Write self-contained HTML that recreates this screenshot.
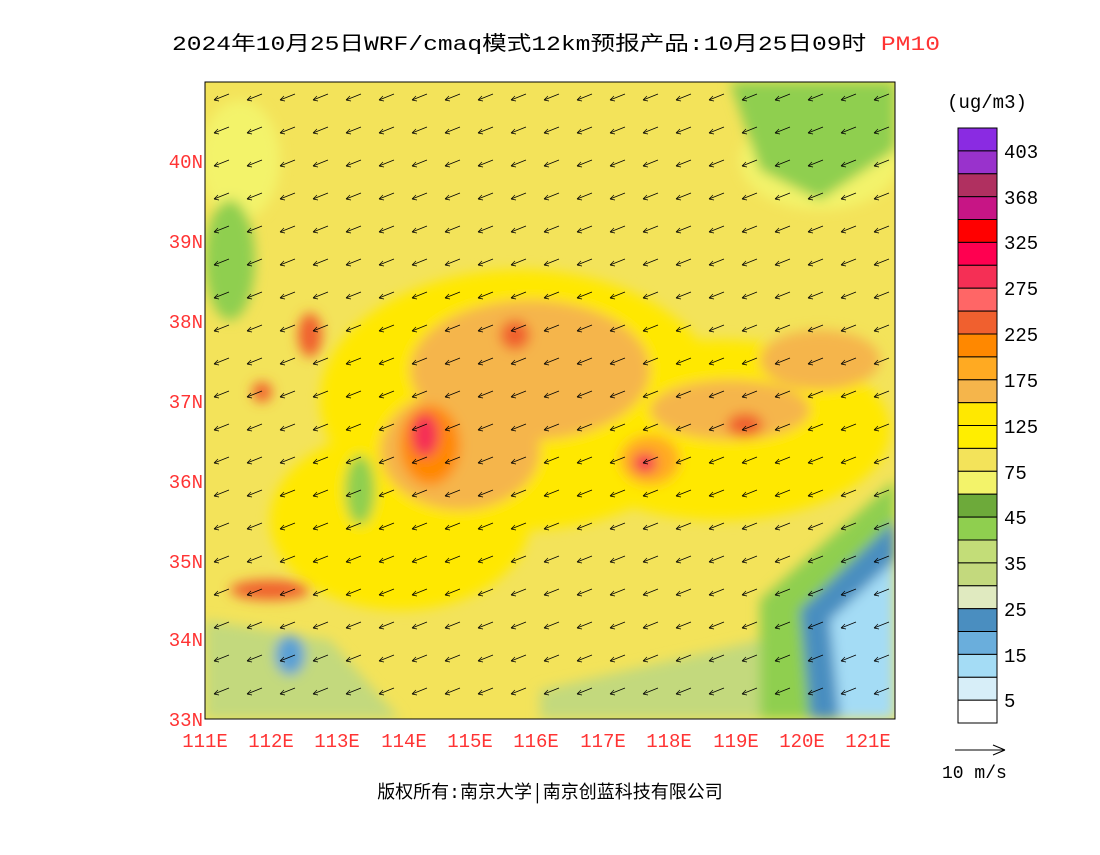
<!DOCTYPE html>
<html><head><meta charset="utf-8"><style>
body{margin:0;background:#fff;width:1100px;height:850px;overflow:hidden}
svg text{font-family:"Liberation Mono","Noto Sans CJK SC",monospace}
</style></head><body>
<svg width="1100" height="850" viewBox="0 0 1100 850" xmlns="http://www.w3.org/2000/svg">
<defs>
<clipPath id="c"><rect x="205" y="82" width="690" height="637"/></clipPath>
<pattern id="arr" x="205" y="82" width="33" height="33" patternUnits="userSpaceOnUse">
<path d="M24 12 L9 18 M9 18 L13 14 M9 18 L14 19" stroke="#000" stroke-width="0.7" fill="none"/>
</pattern>
<filter id="b"><feGaussianBlur stdDeviation="6"/></filter>
</defs>
<text x="172" y="50" font-size="20" textLength="768" lengthAdjust="spacingAndGlyphs" fill="#000">2024年10月25日WRF/cmaq模式12km预报产品:10月25日09时 <tspan fill="#f33">PM10</tspan></text>
<g clip-path="url(#c)">
<rect x="205" y="82" width="690" height="637" fill="#F3E35A"/>
<g filter="url(#b)">
<ellipse cx="520" cy="400" rx="200" ry="130" fill="#FFE800"/>
<ellipse cx="720" cy="430" rx="170" ry="90" fill="#FFE800"/>
<ellipse cx="400" cy="520" rx="130" ry="90" fill="#FFE800"/>
<ellipse cx="530" cy="370" rx="120" ry="70" fill="#F5B54B"/>
<ellipse cx="460" cy="450" rx="80" ry="60" fill="#F5B54B"/>
<ellipse cx="730" cy="410" rx="80" ry="30" fill="#F5B54B"/>
<ellipse cx="650" cy="460" rx="30" ry="25" fill="#FFAA22"/>
<ellipse cx="820" cy="360" rx="60" ry="30" fill="#F5B54B"/>
<ellipse cx="430" cy="445" rx="30" ry="40" fill="#FF8800"/>
<ellipse cx="425" cy="435" rx="14" ry="22" fill="#F52F55"/>
<ellipse cx="645" cy="463" rx="12" ry="10" fill="#F52F55"/>
<ellipse cx="270" cy="590" rx="40" ry="10" fill="#F0602F"/>
<ellipse cx="310" cy="335" rx="12" ry="22" fill="#F0602F"/>
<ellipse cx="262" cy="392" rx="10" ry="10" fill="#F0602F"/>
<ellipse cx="745" cy="425" rx="18" ry="12" fill="#F0602F"/>
<ellipse cx="515" cy="335" rx="15" ry="15" fill="#F0602F"/>
<ellipse cx="240" cy="160" rx="40" ry="60" fill="#F3F36A"/>
<ellipse cx="820" cy="160" rx="80" ry="50" fill="#F3F36A"/>
<path d="M730 82 L895 82 L895 150 L820 200 L760 170 Z" fill="#8FCF4F"/>
<ellipse cx="230" cy="260" rx="25" ry="60" fill="#8FCF4F"/>
<ellipse cx="360" cy="490" rx="15" ry="35" fill="#8FCF4F"/>
<path d="M205 620 L330 640 L400 719 L205 719 Z" fill="#C3D97D"/>
<path d="M540 690 L760 640 L760 719 L540 719 Z" fill="#C3D97D"/>
<path d="M760 600 L895 480 L895 719 L760 719 Z" fill="#8FCF4F"/>
<path d="M800 610 L895 520 L895 719 L810 719 Z" fill="#4A8EC0"/>
<path d="M830 620 L895 560 L895 719 L840 719 Z" fill="#A4DCF5"/>
<ellipse cx="290" cy="655" rx="15" ry="20" fill="#5AA0D5"/>
</g>
<rect x="205" y="82" width="690" height="637" fill="url(#arr)"/>
</g>
<rect x="205" y="82" width="690" height="637" fill="none" stroke="#000" stroke-width="1"/>
<g font-size="19" fill="#f33" text-anchor="end">
<text x="203" y="168">40N</text><text x="203" y="248">39N</text><text x="203" y="328">38N</text><text x="203" y="408">37N</text><text x="203" y="488">36N</text><text x="203" y="568">35N</text><text x="203" y="646">34N</text><text x="203" y="726">33N</text>
</g>
<g font-size="19" fill="#f33" text-anchor="middle">
<text x="205" y="747">111E</text><text x="271" y="747">112E</text><text x="337" y="747">113E</text><text x="404" y="747">114E</text><text x="470" y="747">115E</text><text x="536" y="747">116E</text><text x="603" y="747">117E</text><text x="669" y="747">118E</text><text x="736" y="747">119E</text><text x="802" y="747">120E</text><text x="868" y="747">121E</text>
</g>
<text x="550" y="798" font-size="18" text-anchor="middle">版权所有:南京大学│南京创蓝科技有限公司</text>
<text x="987" y="108" font-size="19" text-anchor="middle">(ug/m3)</text>
<g stroke="#000" stroke-width="1">
<rect x="958" y="128.0" width="39" height="22.9" fill="#8A2BE2"/>
<rect x="958" y="150.9" width="39" height="22.9" fill="#9932CC"/>
<rect x="958" y="173.8" width="39" height="22.9" fill="#B03060"/>
<rect x="958" y="196.7" width="39" height="22.9" fill="#C71585"/>
<rect x="958" y="219.5" width="39" height="22.9" fill="#FF0000"/>
<rect x="958" y="242.4" width="39" height="22.9" fill="#FF0050"/>
<rect x="958" y="265.3" width="39" height="22.9" fill="#F52F55"/>
<rect x="958" y="288.2" width="39" height="22.9" fill="#FF6666"/>
<rect x="958" y="311.1" width="39" height="22.9" fill="#F0602F"/>
<rect x="958" y="334.0" width="39" height="22.9" fill="#FF8800"/>
<rect x="958" y="356.9" width="39" height="22.9" fill="#FFAA22"/>
<rect x="958" y="379.8" width="39" height="22.9" fill="#F5B54B"/>
<rect x="958" y="402.7" width="39" height="22.9" fill="#FFE800"/>
<rect x="958" y="425.5" width="39" height="22.9" fill="#FFEE00"/>
<rect x="958" y="448.4" width="39" height="22.9" fill="#F3E35A"/>
<rect x="958" y="471.3" width="39" height="22.9" fill="#F3F36A"/>
<rect x="958" y="494.2" width="39" height="22.9" fill="#6DAA3A"/>
<rect x="958" y="517.1" width="39" height="22.9" fill="#8FCF4F"/>
<rect x="958" y="540.0" width="39" height="22.9" fill="#C3DD78"/>
<rect x="958" y="562.9" width="39" height="22.9" fill="#C3D97D"/>
<rect x="958" y="585.8" width="39" height="22.9" fill="#E0EAC0"/>
<rect x="958" y="608.7" width="39" height="22.9" fill="#4A8EC0"/>
<rect x="958" y="631.5" width="39" height="22.9" fill="#6AAEDC"/>
<rect x="958" y="654.4" width="39" height="22.9" fill="#A4DCF5"/>
<rect x="958" y="677.3" width="39" height="22.9" fill="#D7EEF8"/>
<rect x="958" y="700.2" width="39" height="22.8" fill="#fff"/>
</g>
<g font-size="19" fill="#000">
<text x="1004" y="158">403</text><text x="1004" y="204">368</text><text x="1004" y="249">325</text><text x="1004" y="295">275</text><text x="1004" y="341">225</text><text x="1004" y="387">175</text><text x="1004" y="433">125</text><text x="1004" y="479">75</text><text x="1004" y="524">45</text><text x="1004" y="570">35</text><text x="1004" y="616">25</text><text x="1004" y="662">15</text><text x="1004" y="707">5</text>
</g>
<path d="M955 750 L1005 750 M1005 750 L993 745 M1005 750 L993 755" stroke="#000" stroke-width="1" fill="none"/>
<text x="942" y="778" font-size="18">10 m/s</text>
</svg>
</body></html>
